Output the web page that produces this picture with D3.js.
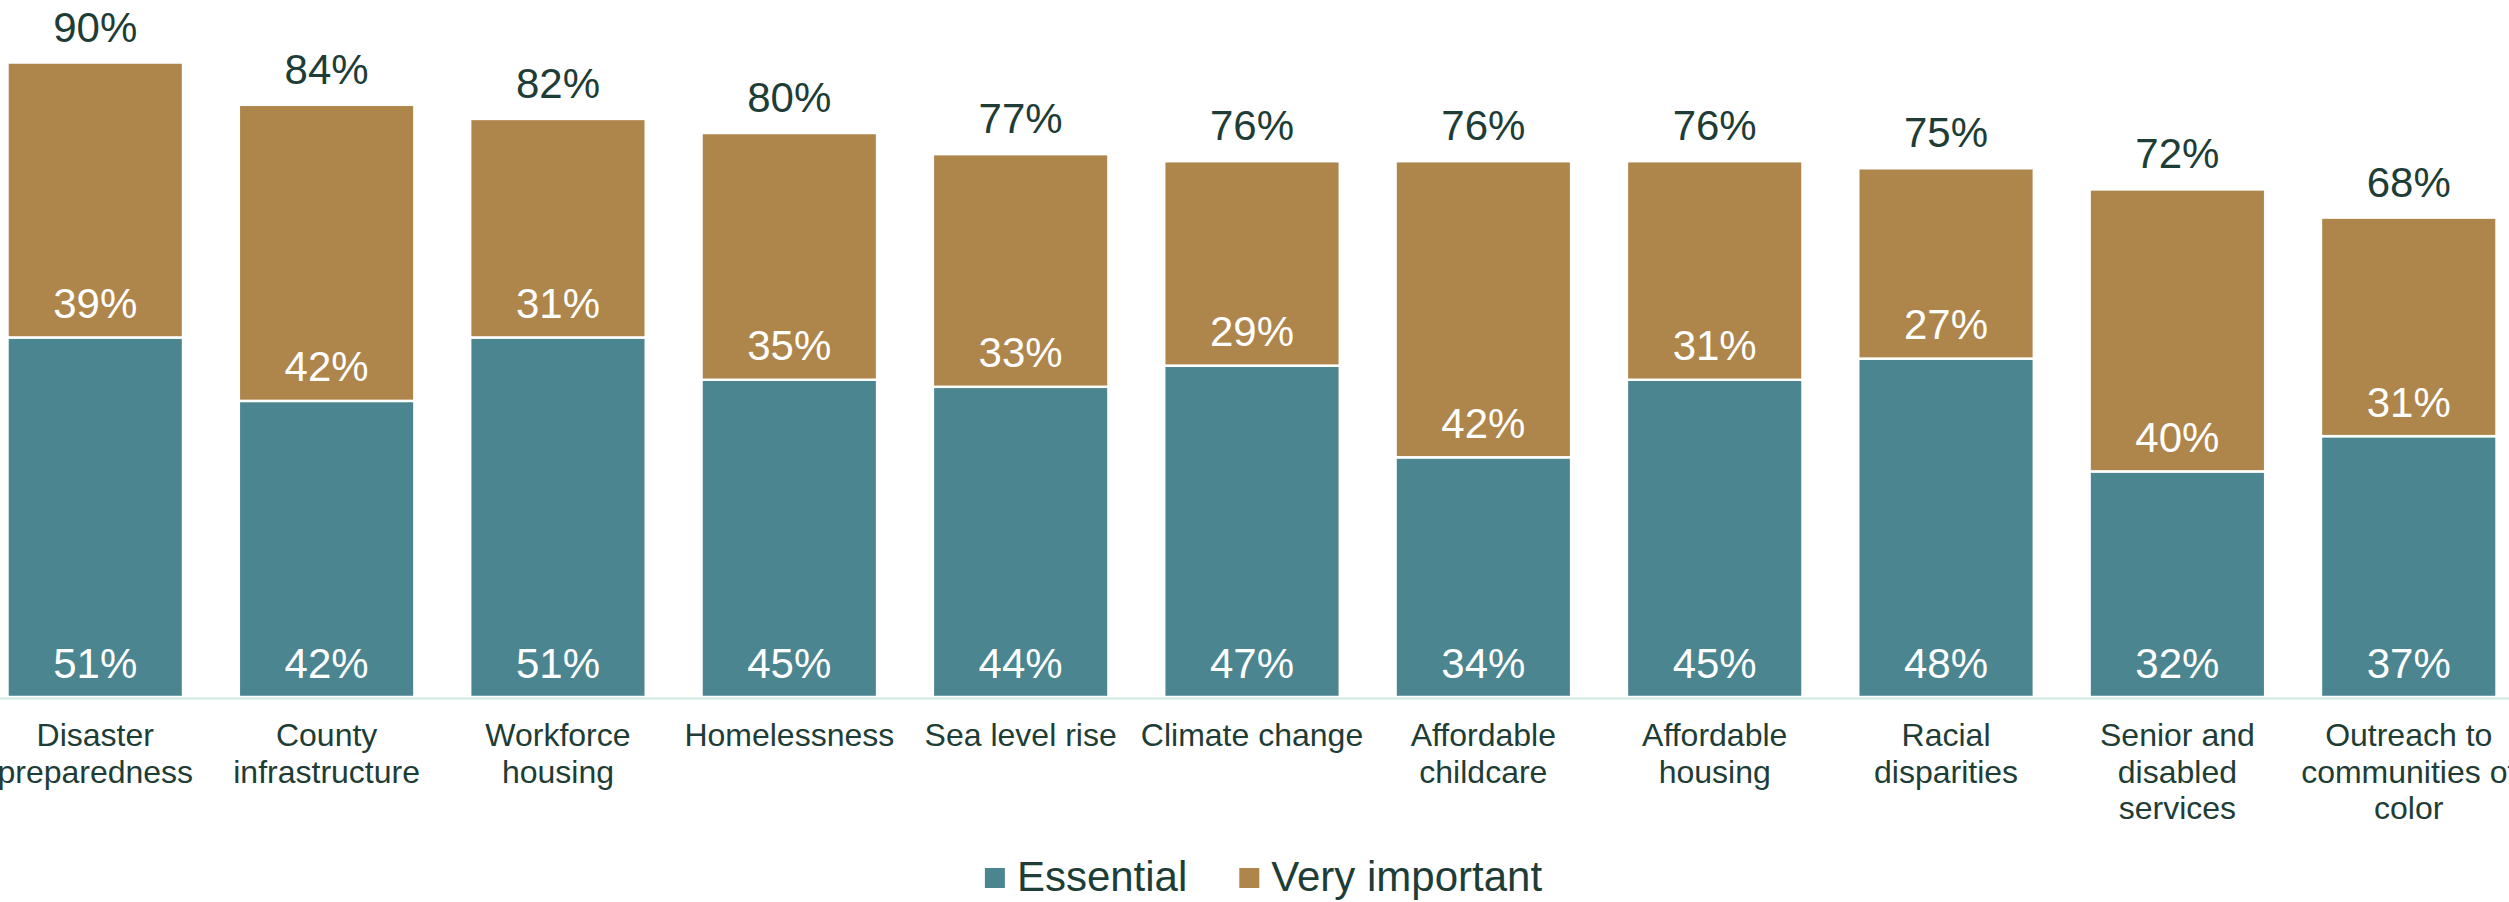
<!DOCTYPE html>
<html>
<head>
<meta charset="utf-8">
<script src="https://cdn.jsdelivr.net/npm/d3@7"></script>
<style>
  body { margin: 0; background: #fff; }
  text { font-family: 'Liberation Sans', Arial, sans-serif; }
</style>
</head>
<body>
<div id="chart-area"></div>
<script>
// survey data: share rating each priority as essential / very important
const categories = [
  'Disaster preparedness', 'County infrastructure', 'Workforce housing',
  'Homelessness', 'Sea level rise', 'Climate change', 'Affordable childcare',
  'Affordable housing', 'Racial disparities', 'Senior and disabled services',
  'Outreach to communities of color'
]
const essential = [51, 42, 51, 45, 44, 47, 34, 45, 48, 32, 37]
const veryImportant = [39, 42, 31, 35, 33, 29, 42, 31, 27, 40, 31]
const totals = [90, 84, 82, 80, 77, 76, 76, 76, 75, 72, 68]
const tickLabels = [
  ['Disaster', 'preparedness'], ['County', 'infrastructure'], ['Workforce', 'housing'],
  ['Homelessness'], ['Sea level rise'], ['Climate change'], ['Affordable', 'childcare'],
  ['Affordable', 'housing'], ['Racial', 'disparities'], ['Senior and', 'disabled', 'services'],
  ['Outreach to', 'communities of', 'color']
]
const seriesNames = ['Essential', 'Very important']

const colors = { essential: '#4a8590', veryImportant: '#ae854a', text: '#1e3d36' }

const width = 2509
const height = 902
const baseline = 697

const svg = d3.select('#chart-area')
  .append('svg')
    .attr('width', width)
    .attr('height', height)

const data = categories.map((c, i) => ({
  category: c,
  essential: essential[i],
  veryImportant: veryImportant[i],
  total: totals[i],
  lines: tickLabels[i]
}))

const scaleX = d3.scaleBand()
  .domain(categories)
  .range([4, 2500])
  .paddingInner(0.241)
  .paddingOuter(0.015)

const scaleY = d3.scaleLinear()
  .domain([0, 100])
  .range([baseline, baseline - 705])

const stack = d3.stack().keys(['essential', 'veryImportant'])
const series = stack(data)

const g = svg.append('g')

g.selectAll('g.series').data(series).enter()
  .append('g')
    .attr('class', 'series')
    .attr('fill', d => colors[d.key])
  .selectAll('rect').data(d => d).enter()
  .append('rect')
    .attr('x', d => scaleX(d.data.category))
    .attr('y', d => scaleY(d[1]))
    .attr('width', scaleX.bandwidth())
    .attr('height', d => scaleY(d[0]) - scaleY(d[1]))
    .attr('stroke', '#fff')
    .attr('stroke-width', 2.5)

// segment labels sit at the base of each segment
g.selectAll('g.seg-labels').data(series).enter()
  .append('g')
    .attr('class', 'seg-labels')
  .selectAll('text').data(d => d).enter()
  .append('text')
    .attr('x', d => scaleX(d.data.category) + scaleX.bandwidth() / 2)
    .attr('y', d => scaleY(d[0]) - 19.5)
    .attr('text-anchor', 'middle')
    .attr('fill', '#fff')
    .style('font-size', '42px')
    .text(d => `${d[1] - d[0]}%`)

// totals above the bars
g.selectAll('text.total').data(data).enter()
  .append('text')
    .attr('class', 'total')
    .attr('x', d => scaleX(d.category) + scaleX.bandwidth() / 2)
    .attr('y', d => scaleY(d.total) - 21)
    .attr('text-anchor', 'middle')
    .attr('fill', colors.text)
    .style('font-size', '42px')
    .text(d => `${d.total}%`)

const xAxisCall = d3.axisBottom(scaleX)
  .tickSize(0)
  .tickSizeOuter(0)
  .tickFormat('')

const xAxis = g.append('g')
  .attr('transform', `translate(0, ${baseline + 1.5})`)
  .call(xAxisCall)

xAxis.select('.domain')
  .attr('d', `M0,0H${width}`)
  .attr('stroke', '#d6ebe6')
  .attr('stroke-width', 2.5)

xAxis.selectAll('.tick text')
  .attr('fill', colors.text)
  .style('font-size', '32px')
  .attr('y', 0)
  .attr('dy', null)
  .each(function (d, i) {
    const t = d3.select(this)
    tickLabels[i].forEach((line, j) => {
      t.append('tspan')
        .attr('x', 0)
        .attr('y', 47.5 + j * 36.5)
        .text(line)
    })
  })

// legend
const legend = svg.append('g')
const legendKeys = [colors.essential, colors.veryImportant]
let legendX = 0
const items = legend.selectAll('g').data(seriesNames).enter()
  .append('g')

items.append('rect')
  .attr('y', 868)
  .attr('width', 20)
  .attr('height', 20)
  .attr('fill', (d, i) => legendKeys[i])

items.append('text')
  .attr('x', 32)
  .attr('y', 891)
  .attr('fill', colors.text)
  .style('font-size', '42px')
  .text(d => d)

items.each(function () {
  const item = d3.select(this)
  const w = 32 + item.select('text').node().getComputedTextLength()
  item.attr('transform', `translate(${legendX}, 0)`)
  legendX += w + 52
})
const legendWidth = legendX - 52
legend.attr('transform', `translate(${1263.5 - legendWidth / 2}, 0)`)
</script>
</body>
</html>
